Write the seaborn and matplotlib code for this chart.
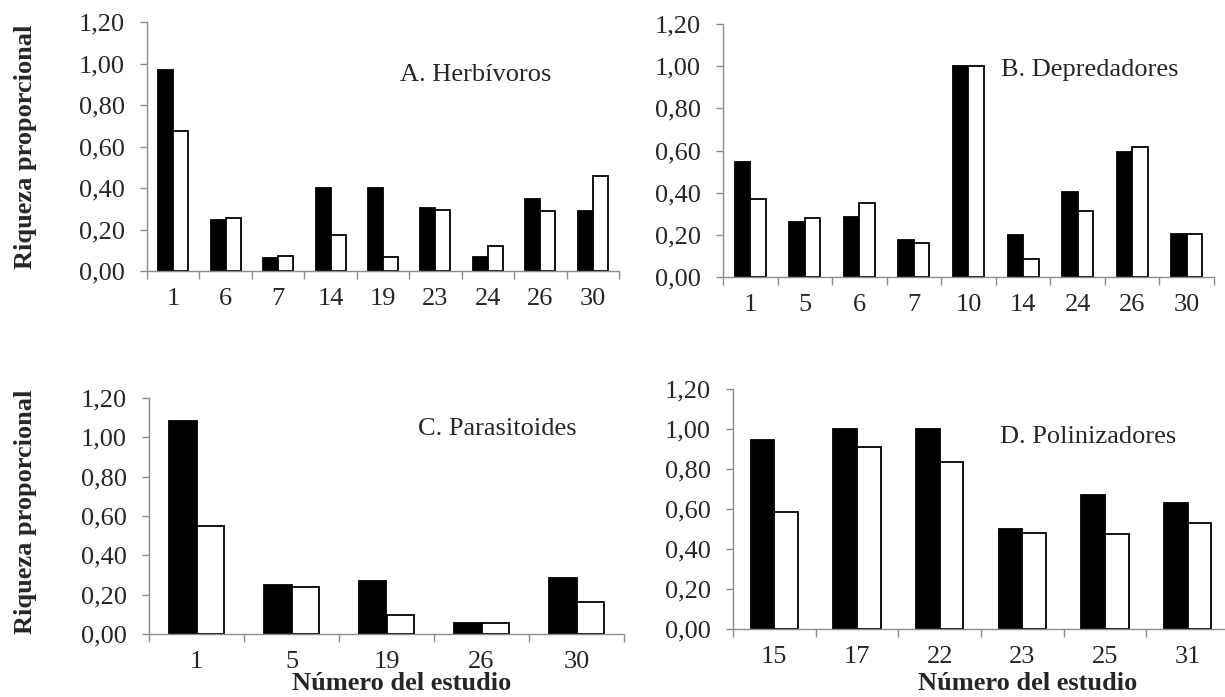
import matplotlib
matplotlib.use("Agg")
import matplotlib.pyplot as plt
import seaborn as sns
import pandas as pd
import numpy as np

# ---------------- data ----------------
series_names = ["Serie 1", "Serie 2"]

herb_studies = ["1", "6", "7", "14", "19", "23", "24", "26", "30"]
herb_black = [0.97, 0.245, 0.064, 0.40, 0.40, 0.303, 0.068, 0.348, 0.288]
herb_white = [0.676, 0.256, 0.072, 0.172, 0.068, 0.293, 0.122, 0.29, 0.457]

depr_studies = ["1", "5", "6", "7", "10", "14", "24", "26", "30"]
depr_black = [0.546, 0.262, 0.284, 0.174, 1.00, 0.199, 0.401, 0.591, 0.205]
depr_white = [0.372, 0.278, 0.349, 0.161, 1.00, 0.085, 0.315, 0.618, 0.206]

para_studies = ["1", "5", "19", "26", "30"]
para_black = [1.082, 0.247, 0.267, 0.057, 0.287]
para_white = [0.551, 0.240, 0.095, 0.057, 0.164]

poli_studies = ["15", "17", "22", "23", "25", "31"]
poli_black = [0.946, 1.00, 1.00, 0.499, 0.671, 0.630]
poli_white = [0.583, 0.909, 0.833, 0.482, 0.477, 0.528]

panel_titles = ["A. Herbívoros", "B. Depredadores", "C. Parasitoides", "D. Polinizadores"]
y_ticks = [0.0, 0.2, 0.4, 0.6, 0.8, 1.0, 1.2]
ylabel_text = "Riqueza proporcional"
xlabel_text = "Número del estudio"

# ---------------- style ----------------
sns.set_theme(style="ticks")
plt.rcParams["font.family"] = ["Liberation Serif", "DejaVu Serif"]

W, H = 1225, 697
fig = plt.figure(figsize=(W / 100, H / 100), dpi=100)
GRAY = "#8c8c8c"
FS = 19


def px_axes(left, right, top, bottom):
    return fig.add_axes([left / W, 1 - bottom / H, (right - left) / W, (bottom - top) / H])


panels = [
    (herb_studies, herb_black, herb_white, px_axes(147, 619, 22, 271)),
    (depr_studies, depr_black, depr_white, px_axes(723, 1214, 24, 277)),
    (para_studies, para_black, para_white, px_axes(149, 624, 398, 634)),
    (poli_studies, poli_black, poli_white, px_axes(733, 1229, 389, 629)),
]

for studies, blk, wht, ax in panels:
    df = pd.DataFrame({
        "estudio": studies * 2,
        "valor": list(blk) + list(wht),
        "serie": [series_names[0]] * len(studies) + [series_names[1]] * len(studies),
    })
    sns.barplot(data=df, x="estudio", y="valor", hue="serie", order=studies,
                hue_order=series_names,
                palette={series_names[0]: "black", series_names[1]: "white"},
                edgecolor="black", linewidth=1.3, width=0.57, gap=0,
                legend=False, ax=ax)
    n = len(studies)
    ax.set_xlim(-0.5, n - 0.5)
    ax.set_ylim(0, 1.2)
    ax.set_xlabel("")
    ax.set_ylabel("")
    ax.set_yticks(y_ticks)
    ax.set_yticklabels([f"{v:.2f}".replace(".", ",") for v in y_ticks], fontsize=FS)
    ax.set_xticks(np.arange(n + 1) - 0.5)
    ax.set_xticklabels([])
    ax.set_xticks(np.arange(n), labels=studies, minor=True)
    for lab in ax.get_xticklabels(minor=True):
        lab.set_fontsize(FS)
    ax.tick_params(axis="x", which="major", length=6, width=1, color=GRAY, direction="out")
    ax.tick_params(axis="x", which="minor", length=0, pad=12)
    ax.tick_params(axis="y", length=5, width=1, color=GRAY, direction="out", pad=11)
    for s in ["top", "right"]:
        ax.spines[s].set_visible(False)
    for s in ["left", "bottom"]:
        ax.spines[s].set_color(GRAY)
        ax.spines[s].set_linewidth(1)
    ax.spines["left"].set_bounds(0, 1.2)

# panel titles (figure pixel positions)
title_pos = [(400, 75), (1001, 70), (418, 429), (1000, 437)]
for (x, y), t in zip(title_pos, panel_titles):
    fig.text(x / W, 1 - y / H, t, fontsize=FS, ha="left", va="center")

# y labels
for yc in (147, 512):
    fig.text(26 / W, 1 - yc / H, ylabel_text, fontsize=FS, fontweight="bold",
             rotation=90, ha="center", va="center")
# x labels
for xc in (402, 1028):
    fig.text(xc / W, 1 - 683 / H, xlabel_text, fontsize=FS, fontweight="bold",
             ha="center", va="center")

fig.savefig("out.png", dpi=100)
